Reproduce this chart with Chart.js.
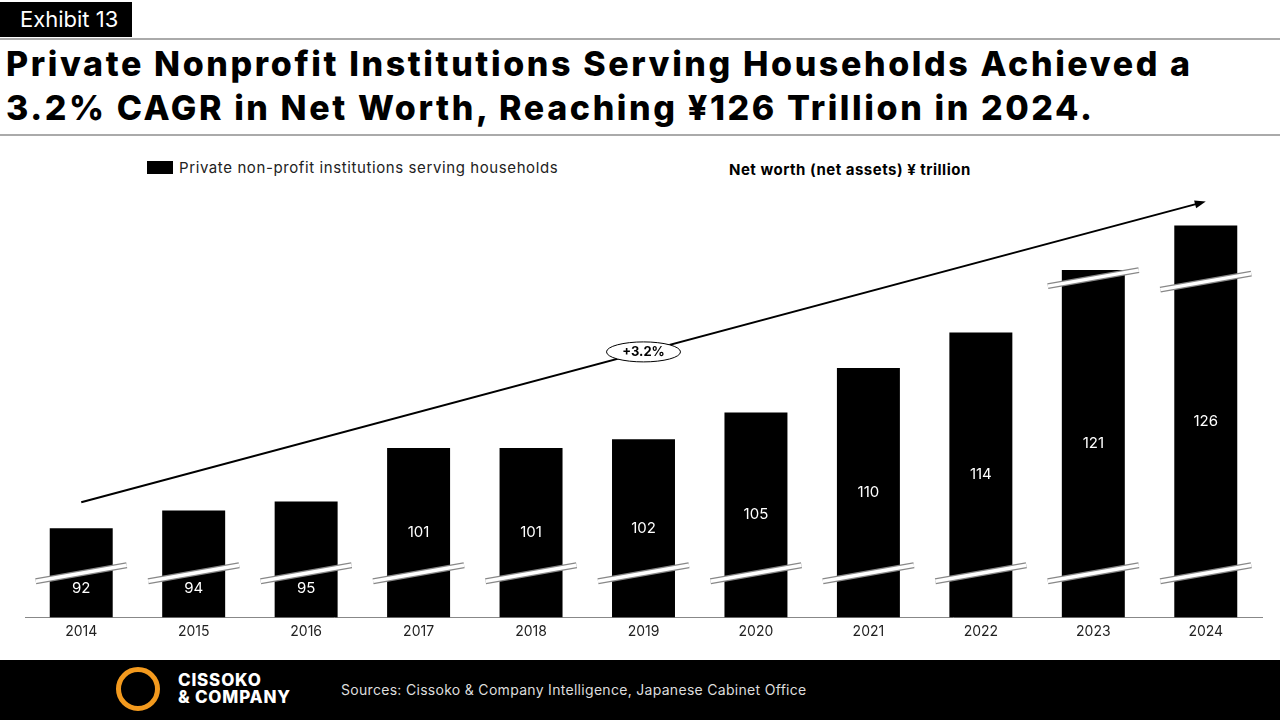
<!DOCTYPE html>
<html><head><meta charset="utf-8">
<script src="https://cdn.jsdelivr.net/npm/chart.js@4/dist/chart.umd.min.js"></script>
<style>
body{margin:0;width:1280px;height:720px;position:relative;background:#fff;font-family:Inter,"Open Sans",sans-serif;overflow:hidden}
#ex{position:absolute;left:0;top:2px;background:#000;color:#fff;font-size:22px;padding:4px 14px 5px 20px}
#t{position:absolute;left:6px;top:42px;font-size:34px;font-weight:800;line-height:44px;color:#000;letter-spacing:2.6px}
.hr{position:absolute;left:0;width:1280px;height:2px;background:#aaa}
#leg{position:absolute;left:147px;top:158px;font-size:15px;color:#222;letter-spacing:0.6px}
#leg span{display:inline-block;width:26px;height:13px;background:#000;vertical-align:-1px;margin-right:6px}
#unit{position:absolute;left:729px;top:160px;font-size:15px;font-weight:700;letter-spacing:0.5px}
#wrap{position:absolute;left:0;top:190px;width:1280px;height:456px}
#foot{position:absolute;left:0;top:660px;width:1280px;height:60px;background:#000;color:#ddd}
#src{position:absolute;left:341px;top:21px;font-size:14px;letter-spacing:0.3px}
#logo{position:absolute;left:116px;top:7px;width:44px;height:44px;border-radius:50%;border:5px solid #f39a1e;box-sizing:border-box}
#lt{position:absolute;left:178px;top:12px;color:#fff;font-weight:800;font-size:17px;line-height:17px;letter-spacing:0.8px}
</style></head><body>
<div id="ex">Exhibit 13</div>
<div class="hr" style="top:38px"></div>
<div id="t">Private Nonprofit Institutions Serving Households Achieved a<br>3.2% CAGR in Net Worth, Reaching ¥126 Trillion in 2024.</div>
<div class="hr" style="top:134px"></div>
<div id="leg"><span></span>Private non-profit institutions serving households</div>
<div id="unit">Net worth (net assets) ¥ trillion</div>
<div id="wrap"><canvas id="c"></canvas></div>
<div id="foot"><div id="logo"></div><div id="lt">CISSOKO<br>&amp; COMPANY</div><div id="src">Sources: Cissoko &amp; Company Intelligence, Japanese Cabinet Office</div></div>
<script>
const years=["2014","2015","2016","2017","2018","2019","2020","2021","2022","2023","2024"];
const netWorth=[92,94,95,101,101,102,105,110,114,121,126];
const cagrLabel="+3.2%";
const deco={id:'deco',afterDatasetsDraw(ch){
 const c=ch.ctx,m=ch.getDatasetMeta(0),ys=ch.scales.y;
 const base=ys.getPixelForValue(ys.min);
 c.save();
 m.data.forEach((b,i)=>{
  const w=b.width/2+14;
  const line=(yy)=>{c.lineCap='butt';c.strokeStyle='#888';c.lineWidth=6;c.beginPath();c.moveTo(b.x-w,yy+8);c.lineTo(b.x+w,yy-8);c.stroke();
   c.strokeStyle='#fff';c.lineWidth=3.5;c.beginPath();c.moveTo(b.x-w,yy+8);c.lineTo(b.x+w,yy-8);c.stroke();};
  line(base-44);
  if(i>=9) line(b.y+(i==9?8:56));
  const h=base-b.y;
  let ly=(b.y+base)/2; if(h<150) ly=base-29;
  c.fillStyle='#fff';c.font='15px Inter, sans-serif';c.textAlign='center';c.textBaseline='middle';
  c.fillText(netWorth[i],b.x,ly);
 });
 const a=m.data[0],z=m.data[10];
 const x1=a.x,y1=a.y-26,x2=z.x,y2=z.y-24;
 c.strokeStyle='#000';c.lineWidth=2;c.beginPath();c.moveTo(x1,y1);c.lineTo(x2-8,y2+2);c.stroke();
 const ang=Math.atan2(y2-y1,x2-x1);
 c.fillStyle='#000';c.beginPath();c.moveTo(x2,y2);c.lineTo(x2-11*Math.cos(ang)+4*Math.sin(ang),y2-11*Math.sin(ang)-4*Math.cos(ang));
 c.lineTo(x2-11*Math.cos(ang)-4*Math.sin(ang),y2-11*Math.sin(ang)+4*Math.cos(ang));c.fill();
 const mx=(x1+x2)/2,my=(y1+y2)/2;
 c.fillStyle='#fff';c.beginPath();c.ellipse(mx,my,37,10,0,0,Math.PI*2);c.fill();c.lineWidth=1;c.stroke();
 c.fillStyle='#000';c.font='bold 13px Inter, sans-serif';c.textAlign='center';c.textBaseline='middle';c.fillText(cagrLabel,mx,my);
 c.restore();}};
new Chart(document.getElementById('c'),{type:'bar',
 data:{labels:years,datasets:[{data:netWorth,backgroundColor:'#000',barPercentage:0.56,categoryPercentage:1}]},
 options:{responsive:true,maintainAspectRatio:false,animation:false,
  layout:{padding:{left:25,right:18,top:0,bottom:0}},
  plugins:{legend:{display:false},tooltip:{enabled:false}},
  scales:{x:{grid:{display:false,drawTicks:false},border:{color:'#888'},ticks:{color:'#222',font:{size:14,family:'Inter'},padding:6}},
   y:{display:false,min:82,max:130}}},
 plugins:[deco]});
</script></body></html>
